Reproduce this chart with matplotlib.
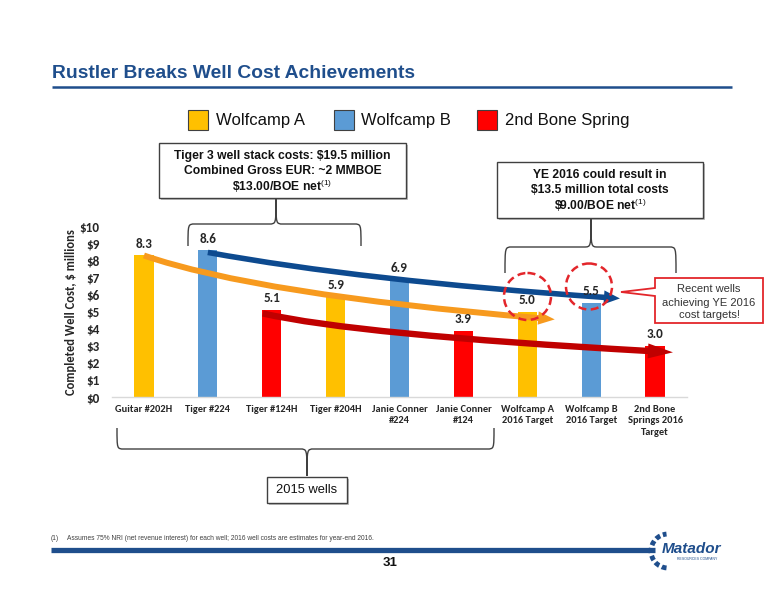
import matplotlib
matplotlib.use("Agg")
import matplotlib.pyplot as plt
from matplotlib import font_manager as fm
from matplotlib.path import Path
from matplotlib.patches import FancyArrowPatch, Rectangle, Circle, Polygon, PathPatch, Arc

# ---------------- data ----------------
categories = ["Guitar #202H", "Tiger #224", "Tiger #124H", "Tiger #204H",
              "Janie Conner\n#224", "Janie Conner\n#124", "Wolfcamp A\n2016 Target",
              "Wolfcamp B\n2016 Target", "2nd Bone\nSprings 2016\nTarget"]
values = [8.3, 8.6, 5.1, 5.9, 6.9, 3.9, 5.0, 5.5, 3.0]
formation = ["Wolfcamp A", "Wolfcamp B", "2nd Bone Spring",
             "Wolfcamp A", "Wolfcamp B", "2nd Bone Spring",
             "Wolfcamp A", "Wolfcamp B", "2nd Bone Spring"]
legend_names = ["Wolfcamp A", "Wolfcamp B", "2nd Bone Spring"]
bar_colors = {"Wolfcamp A": "#FFC000", "Wolfcamp B": "#5B9BD5", "2nd Bone Spring": "#FF0000"}
y_ticks = list(range(0, 11))
y_tick_labels = [f"${v}" for v in y_ticks]

names = {f.name for f in fm.fontManager.ttflist}
def pick(*c):
    return next((x for x in c if x in names), "DejaVu Sans")

ARIAL = pick("Liberation Sans", "Arimo", "DejaVu Sans")
CAL = pick("Carlito", "Lato", "Open Sans", "DejaVu Sans")

plt.rcParams["mathtext.fontset"] = "custom"
plt.rcParams["mathtext.rm"] = ARIAL

fig = plt.figure(figsize=(7.76, 6.0), dpi=100)
W, H = 776, 600

# ---------------- chart axes ----------------
ax = fig.add_axes([112 / W, 1 - 397 / H, 575 / W, 170.5 / H])
x = list(range(len(categories)))
ax.bar(x, values, width=0.3, color=[bar_colors[f] for f in formation], zorder=2)
ax.set_xlim(-0.5, len(categories) - 0.5)
ax.set_ylim(0, 10)
for sp in ["left", "right", "top"]:
    ax.spines[sp].set_visible(False)
ax.spines["bottom"].set_color("#D9D9D9")
ax.spines["bottom"].set_linewidth(1.0)
ax.set_yticks(y_ticks)
ax.set_yticklabels(y_tick_labels, fontfamily=CAL, fontweight="bold", fontsize=9.5, color="#262626")
ax.set_xticks(x)
ax.set_xticklabels(categories, fontfamily=CAL, fontweight="bold", fontsize=7.5,
                   color="#262626", linespacing=1.3)
ax.tick_params(axis="y", length=0, pad=9)
ax.tick_params(axis="x", length=0, pad=6)
ax.set_ylabel("Completed Well Cost, $ millions", fontfamily=CAL, fontweight="bold",
              fontsize=9, color="#262626", labelpad=2)
ax.patch.set_alpha(0)

for i, v in enumerate(values):
    ax.annotate(f"{v:.1f}", (i, v), xytext=(0, 8.5), textcoords="offset points",
                ha="center", va="center", fontfamily=CAL, fontweight="bold",
                fontsize=9.5, color="#262626", zorder=6)

# trend arrows (quadratic curves in data coordinates)
trends = [
    # start, control, end, colour, head_width, head_length, tail_width
    ((0.0, 8.3), (1.81, 5.96), (6.43, 4.55), "#F79A1E", 9.6, 12, 4.3),
    ((1.0, 8.48), (3.49, 6.78), (7.45, 5.78), "#0D4A8F", 10, 11.5, 4.0),
    ((1.86, 4.90), (3.38, 3.61), (8.28, 2.62), "#C00000", 10.8, 18, 4.6),
]
for p0, c, p1, col, hw, hl, tw in trends:
    pth = Path([p0, c, p1], [Path.MOVETO, Path.CURVE3, Path.CURVE3])
    ax.add_patch(FancyArrowPatch(path=pth,
                                 arrowstyle=f"simple,head_length={hl},head_width={hw},tail_width={tw}",
                                 color=col, lw=0, zorder=4, mutation_scale=1))

# ---------------- overlay in pixel coordinates ----------------
ov = fig.add_axes([0, 0, 1, 1])
ov.set_xlim(0, W)
ov.set_ylim(H, 0)
ov.axis("off")

NAVY = "#1F4E8C"
ov.text(52, 77.5, "Rustler Breaks Well Cost Achievements", fontfamily=ARIAL, fontweight="bold",
        fontsize=13.9, color=NAVY, va="baseline", ha="left")
ov.plot([52, 732], [87, 87], color=NAVY, lw=1.8, solid_capstyle="butt")

# legend
leg_sq_x = [188, 334, 477]
leg_tx_x = [216, 361, 505]
for name, sx, tx in zip(legend_names, leg_sq_x, leg_tx_x):
    ov.add_patch(Rectangle((sx, 110), 20, 20, facecolor=bar_colors[name], edgecolor="#404040", lw=0.8))
    ov.text(tx, 121, name, fontfamily=ARIAL, fontsize=12, color="#111111", va="center", ha="left")

def textbox(x0, y0, x1, y1, lines, ys, fs, weight="bold"):
    ov.add_patch(Rectangle((x0 + 2, y0 + 2), x1 - x0, y1 - y0, facecolor="#BFBFBF", edgecolor="none", lw=0))
    ov.add_patch(Rectangle((x0, y0), x1 - x0, y1 - y0, facecolor="white", edgecolor="#404040", lw=1.0))
    for ln, yy in zip(lines, ys):
        ov.text((x0 + x1) / 2, yy, ln, fontfamily=ARIAL, fontweight=weight, fontsize=fs,
                color="#111111", ha="center", va="center")

textbox(159, 143, 406, 198,
        ["Tiger 3 well stack costs: \\$19.5 million", "Combined Gross EUR: ~2 MMBOE",
         r"\$13.00/BOE net$^{\mathrm{(1)}}$"], [155.5, 171, 186.5], 8.7)
textbox(497, 162, 703, 218,
        ["YE 2016 could result in", "\\$13.5 million total costs", r"\$9.00/BOE net$^{\mathrm{(1)}}$"],
        [175, 190, 205], 8.7)

# braces
def brace(x0, x1, xm, y_end, y_h, y_tip, r=7):
    verts = [(x0, y_end), (x0, y_h), (x0, y_h), (x0 + r, y_h),
             (xm - r, y_h), (xm, y_h), (xm, y_h), (xm, y_tip),
             (xm, y_h), (xm, y_h), (xm + r, y_h),
             (x1 - r, y_h), (x1, y_h), (x1, y_h), (x1, y_end)]
    codes = [Path.MOVETO, Path.CURVE4, Path.CURVE4, Path.CURVE4,
             Path.LINETO, Path.CURVE4, Path.CURVE4, Path.CURVE4,
             Path.CURVE4, Path.CURVE4, Path.CURVE4,
             Path.LINETO, Path.CURVE4, Path.CURVE4, Path.CURVE4]
    ov.add_patch(PathPatch(Path(verts, codes), facecolor="none", edgecolor="#404040", lw=1.0))

brace(188, 361, 276, 246, 224, 199)
brace(505, 676, 591, 273, 247, 219)
brace(117, 494, 307, 428, 449, 476)

textbox(267, 477, 347, 503, ["2015 wells"], [490], 9.3, weight="normal")

# dashed circles
for cx, cy, rr in [(527.5, 296.5, 23.5), (589, 286.5, 23)]:
    ov.add_patch(Circle((cx, cy), rr, facecolor="none", edgecolor="#E3262B", lw=1.8,
                        linestyle=(0, (3.2, 1.8)), zorder=5))

# callout
ov.add_patch(Polygon([(655, 278), (763, 278), (763, 323), (655, 323), (655, 296),
                      (621, 292), (655, 288)], closed=True, facecolor="white",
                     edgecolor="#E3262B", lw=1.3, zorder=5))
for ln, yy in zip(["Recent wells", "achieving YE 2016", "cost targets!"], [289, 302.5, 315.5]):
    ov.text(709, yy, ln, fontfamily=ARIAL, fontsize=8, color="#333333", ha="center", va="center", zorder=6)

# footer
ov.text(51, 539, "(1)", fontfamily=ARIAL, fontsize=4.8, color="#404040", va="center")
ov.text(67, 539, "Assumes 75% NRI (net revenue interest) for each well; 2016 well costs are estimates for year-end 2016.",
        fontfamily=ARIAL, fontsize=4.8, color="#404040", va="center")
ov.plot([51, 655], [550, 550], color=NAVY, lw=3.8, solid_capstyle="butt")
ov.text(390, 563, "31", fontfamily=ARIAL, fontweight="bold", fontsize=9.5, color="#111111",
        ha="center", va="center")

# logo (approximation)
ov.add_patch(Arc((668, 551), 34, 34, theta1=95, theta2=265, edgecolor=NAVY, lw=3.5,
                 linestyle=(0, (1.0, 0.6))))
ov.text(691, 549, "Matador", fontfamily=ARIAL, fontweight="bold", fontstyle="italic",
        fontsize=11, color=NAVY, ha="center", va="center")
ov.text(697, 559, "RESOURCES COMPANY", fontfamily=ARIAL, fontsize=2.5, color=NAVY,
        ha="center", va="center")

fig.savefig("out.png", dpi=100)
